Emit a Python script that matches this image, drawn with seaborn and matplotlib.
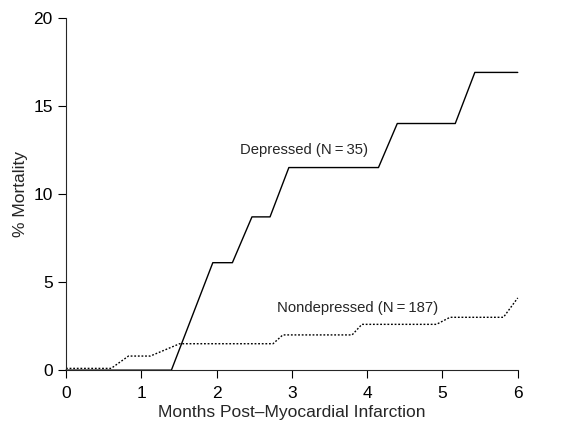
import numpy as np
import pandas as pd
import matplotlib
matplotlib.use("Agg")
import matplotlib.pyplot as plt
import seaborn as sns

# --- data ---
depressed_months = [0, 1.40, 1.95, 2.21, 2.47, 2.71, 2.96, 4.15, 4.40, 5.17, 5.43, 6.0]
depressed_mortality = [0, 0, 6.1, 6.1, 8.7, 8.7, 11.5, 11.5, 14.0, 14.0, 16.9, 16.9]

nondep_months = [0, 0.60, 0.83, 1.12, 1.51, 2.75, 2.88, 3.80, 3.93, 4.92, 5.10, 5.81, 6.0]
nondep_mortality = [0.1, 0.1, 0.8, 0.8, 1.5, 1.5, 2.0, 2.0, 2.6, 2.6, 3.0, 3.0, 4.1]

x_ticks = [0, 1, 2, 3, 4, 5, 6]
y_ticks = [0, 5, 10, 15, 20]

df_dep = pd.DataFrame({'Months': depressed_months, 'Mortality': depressed_mortality})
df_non = pd.DataFrame({'Months': nondep_months, 'Mortality': nondep_mortality})

# --- plot ---
sns.set_style("ticks")
plt.rcParams['font.family'] = ['Liberation Sans', 'DejaVu Sans']

fig = plt.figure(figsize=(5.64, 4.24), dpi=100)
ax = fig.add_axes([0.117, 0.127, 0.801, 0.831])

sns.lineplot(data=df_dep, x='Months', y='Mortality', color='black', linewidth=1.0,
             ax=ax, clip_on=False, estimator=None, sort=False)
sns.lineplot(data=df_non, x='Months', y='Mortality', color='black', linewidth=1.0,
             linestyle=(0, (1.3, 1.3)), ax=ax, clip_on=False, estimator=None, sort=False)

ax.text(2.31, 12.5, 'Depressed (N\u2009=\u200935)', fontsize=10.7, va='center', ha='left')
ax.text(2.80, 3.5, 'Nondepressed (N\u2009=\u2009187)', fontsize=10.7, va='center', ha='left')

ax.set_xlim(0, 6)
ax.set_ylim(0, 20)
ax.set_xticks(x_ticks)
ax.set_yticks(y_ticks)
ax.tick_params(labelsize=12.5, length=6, width=0.8, colors='black')
ax.tick_params(axis='x', pad=5.5)
ax.tick_params(axis='y', pad=3.5)
ax.set_xlabel('Months Post\u2013Myocardial Infarction', fontsize=12.5, labelpad=2.5)
ax.set_ylabel('% Mortality', fontsize=12.5, labelpad=4)
for side in ['left', 'bottom']:
    ax.spines[side].set_linewidth(0.8)
sns.despine(ax=ax)

fig.savefig('out.png', dpi=100)
